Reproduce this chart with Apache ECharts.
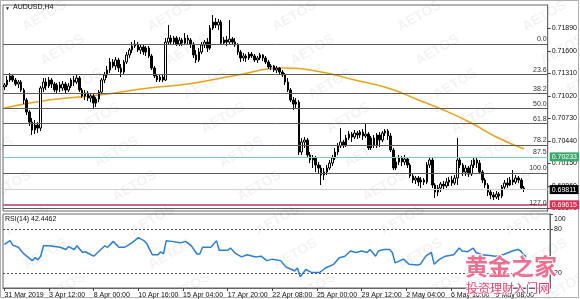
<!DOCTYPE html>
<html><head><meta charset="utf-8">
<script src="https://cdn.jsdelivr.net/npm/echarts@6/dist/echarts.min.js"></script>
<style>html,body{margin:0;padding:0;background:#fff}#c{width:580px;height:299px}</style>
</head><body><div id="c"></div>
<script>
// ---- data ----
const symbolTitle = 'AUDUSD,H4';
const rsiTitle = 'RSI(14) 42.4462';
const tickLabels = ['31 Mar 2019','3 Apr 12:00','8 Apr 00:00','10 Apr 16:00','15 Apr 04:00','17 Apr 20:00','22 Apr 08:00','25 Apr 00:00','29 Apr 12:00','2 May 04:00','6 May 16:00','9 May 08:00'];
const barsPerLabel = 16;
const priceTicks = [0.71890,0.71600,0.71310,0.71020,0.70730,0.70440,0.70150,0.69860,0.69570];
const rsiTicks = [100,80,20];
const rsiLevels = [80,20];
// [open, close, low, high]
const candles = [
[0.71133,0.71159,0.71094,0.71184],[0.71159,0.71223,0.71133,0.71275],[0.71223,0.71275,0.71197,0.71313],[0.71275,0.71223,0.71197,0.71300],
[0.71223,0.71171,0.71146,0.71249],[0.71171,0.71197,0.71120,0.71223],[0.71197,0.71094,0.71068,0.71223],[0.71094,0.70965,0.70913,0.71120],
[0.70965,0.70810,0.70772,0.70991],[0.70810,0.70681,0.70630,0.70836],[0.70681,0.70579,0.70515,0.70733],[0.70579,0.70643,0.70527,0.70707],
[0.70643,0.70604,0.70540,0.70681],[0.70604,0.71120,0.70566,0.71146],[0.71120,0.71197,0.71068,0.71249],[0.71197,0.71146,0.71094,0.71249],
[0.71146,0.71223,0.71120,0.71262],[0.71223,0.71171,0.71120,0.71249],[0.71171,0.71094,0.71068,0.71197],[0.71094,0.71159,0.71055,0.71184],
[0.71159,0.71120,0.71068,0.71197],[0.71120,0.71171,0.71081,0.71210],[0.71171,0.71094,0.71055,0.71197],[0.71094,0.71146,0.71068,0.71184],
[0.71146,0.71223,0.71120,0.71249],[0.71223,0.71197,0.71146,0.71275],[0.71197,0.71249,0.71171,0.71300],[0.71249,0.71094,0.71068,0.71275],
[0.71094,0.71017,0.70991,0.71120],[0.71017,0.71055,0.70965,0.71094],[0.71055,0.70991,0.70952,0.71081],[0.70991,0.71017,0.70939,0.71042],
[0.71017,0.70926,0.70862,0.71042],[0.70926,0.70978,0.70875,0.71004],[0.70978,0.71068,0.70939,0.71094],[0.71068,0.71223,0.71042,0.71249],
[0.71223,0.71288,0.71184,0.71326],[0.71288,0.71352,0.71249,0.71404],[0.71352,0.71455,0.71313,0.71507],[0.71455,0.71404,0.71378,0.71494],
[0.71404,0.71481,0.71352,0.71520],[0.71481,0.71378,0.71326,0.71507],[0.71378,0.71326,0.71262,0.71429],[0.71326,0.71455,0.71300,0.71481],
[0.71455,0.71546,0.71429,0.71584],[0.71546,0.71610,0.71507,0.71635],[0.71610,0.71661,0.71571,0.71712],[0.71661,0.71686,0.71635,0.71738],
[0.71686,0.71610,0.71584,0.71712],[0.71610,0.71648,0.71558,0.71686],[0.71648,0.71584,0.71546,0.71674],[0.71584,0.71635,0.71533,0.71661],
[0.71635,0.71533,0.71507,0.71661],[0.71533,0.71378,0.71352,0.71558],[0.71378,0.71275,0.71249,0.71404],[0.71275,0.71223,0.71197,0.71300],
[0.71223,0.71262,0.71197,0.71288],[0.71262,0.71223,0.71197,0.71300],[0.71223,0.71712,0.71210,0.71764],[0.71712,0.71764,0.71686,0.71932],
[0.71764,0.71712,0.71674,0.71803],[0.71712,0.71764,0.71686,0.71790],[0.71764,0.71686,0.71661,0.71790],[0.71686,0.71738,0.71661,0.71777],
[0.71738,0.71699,0.71661,0.71764],[0.71699,0.71764,0.71674,0.71828],[0.71764,0.71738,0.71686,0.71803],[0.71738,0.71686,0.71635,0.71764],
[0.71686,0.71546,0.71507,0.71712],[0.71546,0.71481,0.71442,0.71610],[0.71481,0.71584,0.71455,0.71635],[0.71584,0.71674,0.71558,0.71712],
[0.71674,0.71712,0.71635,0.71738],[0.71712,0.71635,0.71584,0.71764],[0.71635,0.71893,0.71610,0.71932],[0.71893,0.71970,0.71867,0.72061],
[0.71970,0.71932,0.71893,0.72022],[0.71932,0.71970,0.71867,0.72009],[0.71970,0.71699,0.71674,0.71996],[0.71699,0.71738,0.71674,0.71777],
[0.71738,0.71712,0.71661,0.71790],[0.71712,0.71751,0.71686,0.71996],[0.71751,0.71712,0.71674,0.71777],[0.71712,0.71674,0.71648,0.71764],
[0.71674,0.71584,0.71546,0.71699],[0.71584,0.71507,0.71455,0.71610],[0.71507,0.71533,0.71468,0.71571],[0.71533,0.71507,0.71455,0.71558],
[0.71507,0.71558,0.71481,0.71584],[0.71558,0.71533,0.71507,0.71584],[0.71533,0.71481,0.71455,0.71558],[0.71481,0.71507,0.71442,0.71533],
[0.71507,0.71546,0.71481,0.71571],[0.71546,0.71507,0.71468,0.71558],[0.71507,0.71455,0.71429,0.71533],[0.71455,0.71391,0.71365,0.71481],
[0.71391,0.71404,0.71352,0.71429],[0.71404,0.71352,0.71326,0.71417],[0.71352,0.71378,0.71313,0.71404],[0.71378,0.71326,0.71288,0.71391],
[0.71326,0.71288,0.71262,0.71352],[0.71288,0.71197,0.71159,0.71313],[0.71197,0.71094,0.71068,0.71249],[0.71094,0.70965,0.70939,0.71120],
[0.70965,0.70913,0.70836,0.71004],[0.70913,0.70939,0.70862,0.70991],[0.70939,0.70295,0.70257,0.70965],[0.70295,0.70424,0.70257,0.70476],
[0.70424,0.70450,0.70347,0.70489],[0.70450,0.70257,0.70231,0.70476],[0.70257,0.70192,0.70153,0.70295],[0.70192,0.70218,0.70089,0.70257],
[0.70218,0.70128,0.70037,0.70244],[0.70128,0.70089,0.70024,0.70166],[0.70089,0.69999,0.69870,0.70128],[0.69999,0.70037,0.69934,0.70089],
[0.70037,0.70089,0.69999,0.70128],[0.70089,0.70153,0.70063,0.70192],[0.70153,0.70218,0.70115,0.70257],[0.70218,0.70295,0.70192,0.70347],
[0.70295,0.70373,0.70257,0.70411],[0.70373,0.70424,0.70347,0.70604],[0.70424,0.70386,0.70347,0.70450],[0.70386,0.70476,0.70360,0.70515],
[0.70476,0.70527,0.70450,0.70566],[0.70527,0.70489,0.70424,0.70553],[0.70489,0.70540,0.70463,0.70579],[0.70540,0.70515,0.70463,0.70566],
[0.70515,0.70553,0.70476,0.70579],[0.70553,0.70502,0.70450,0.70591],[0.70502,0.70527,0.70476,0.70668],[0.70527,0.70347,0.70321,0.70553],
[0.70347,0.70476,0.70321,0.70502],[0.70476,0.70386,0.70347,0.70515],[0.70386,0.70515,0.70347,0.70540],[0.70515,0.70450,0.70360,0.70553],
[0.70450,0.70540,0.70424,0.70566],[0.70540,0.70566,0.70502,0.70591],[0.70566,0.70502,0.70450,0.70591],[0.70502,0.70321,0.70295,0.70540],
[0.70321,0.70089,0.70063,0.70347],[0.70089,0.70166,0.70063,0.70218],[0.70166,0.70218,0.70128,0.70257],[0.70218,0.70166,0.70115,0.70244],
[0.70166,0.70205,0.70128,0.70257],[0.70205,0.70128,0.70089,0.70231],[0.70128,0.69986,0.69960,0.70153],[0.69986,0.69934,0.69895,0.70011],
[0.69934,0.69960,0.69882,0.69986],[0.69960,0.69908,0.69857,0.69986],[0.69908,0.69934,0.69831,0.69973],[0.69934,0.69908,0.69870,0.69960],
[0.69908,0.70128,0.69882,0.70166],[0.70128,0.70192,0.70089,0.70218],[0.70192,0.69870,0.69831,0.70218],[0.69870,0.69779,0.69702,0.69895],
[0.69779,0.69831,0.69728,0.69870],[0.69831,0.69882,0.69779,0.69908],[0.69882,0.69857,0.69805,0.69921],[0.69857,0.69908,0.69831,0.69960],
[0.69908,0.69934,0.69857,0.69973],[0.69934,0.69895,0.69857,0.69986],[0.69895,0.69960,0.69870,0.69999],[0.69960,0.70192,0.69870,0.70476],
[0.70192,0.70128,0.70089,0.70231],[0.70128,0.70037,0.69986,0.70153],[0.70037,0.70089,0.69986,0.70128],[0.70089,0.70011,0.69973,0.70115],
[0.70011,0.70128,0.69986,0.70192],[0.70128,0.70192,0.70089,0.70231],[0.70192,0.70153,0.70089,0.70218],[0.70153,0.70037,0.70011,0.70192],
[0.70037,0.69934,0.69895,0.70063],[0.69934,0.69870,0.69831,0.69960],[0.69870,0.69779,0.69728,0.69895],[0.69779,0.69741,0.69689,0.69805],
[0.69741,0.69715,0.69676,0.69779],[0.69715,0.69753,0.69689,0.69792],[0.69753,0.69728,0.69676,0.69779],[0.69728,0.69844,0.69702,0.69870],
[0.69844,0.69895,0.69805,0.69934],[0.69895,0.69870,0.69831,0.69960],[0.69870,0.69934,0.69857,0.69973],[0.69934,0.69908,0.69870,0.70063],
[0.69908,0.69960,0.69882,0.69999],[0.69960,0.69934,0.69895,0.69986],[0.69934,0.69831,0.69805,0.69960],[0.69831,0.69811,0.69779,0.69857]
];
// moving average, [bar index, value]
const maPoints = [[0,0.70863],[16,0.70966],[34,0.71030],[52,0.71120],[66,0.71172],[84,0.71288],[100,0.71378],[114,0.71327],[126,0.71223],[138,0.71120],[149,0.70966],[158,0.70837],[168,0.70669],[177,0.70489],[187,0.70334]];
// RSI(14), [bar index, value]
const rsiPoints = [[0,59],[2,64],[3,58],[5,55],[7,46],[9,40],[10,37],[11,41],[12,38],[13,43],[14,57],[16,57],[18,56],[20,55],[22,52],[23,56],[25,52],[26,57],[28,48],[29,49],[30,47],[32,43],[34,50],[36,57],[37,55],[39,63],[41,55],[43,55],[44,57],[46,62],[48,68],[50,64],[51,60],[53,45],[55,45],[56,49],[57,46],[58,64],[60,63],[63,61],[65,63],[67,57],[69,46],[70,46],[71,55],[74,55],[76,64],[77,51],[80,51],[81,54],[83,46],[85,42],[87,45],[90,42],[92,43],[94,37],[96,39],[99,37],[101,28],[103,25],[104,23],[105,27],[106,15],[108,25],[110,21],[113,21],[114,24],[115,27],[118,32],[120,41],[122,43],[124,50],[126,48],[128,50],[130,48],[131,52],[133,43],[134,50],[136,52],[138,52],[139,48],[140,34],[143,39],[145,32],[148,31],[149,32],[151,43],[153,48],[154,32],[156,39],[158,43],[161,45],[163,54],[164,50],[166,49],[168,54],[169,48],[171,45],[174,44],[176,43],[178,44],[180,47],[182,50],[184,52],[185,50],[186,45],[187,42.45]];
const fibHigh = 0.71690, fibLow = 0.70024;
const fibLevels = [0,23.6,38.2,50,61.8,78.2,87.5,100,127];
const askPrice = 0.70233, lastPrice = 0.69811, stopPrice = 0.69615;
const SLOTS = 196;

// ---- chart ----
const FONT = 'Liberation Sans';
const cats = Array.from({length: SLOTS}, (_, i) => String(i));
const fibLines = fibLevels.map(l => ({
  name: 'fib' + l,
  yAxis: +(fibHigh - (fibHigh - fibLow) * l / 100).toFixed(5),
  lineStyle: {color: l === 87.5 ? '#7fcfae' : '#5c5c5c', width: 1, type: 'solid'},
  label: {show: true, position: 'insideEndTop', formatter: l.toFixed(1), color: '#333', fontSize: 7, fontFamily: FONT, distance: 1}
}));
function tagLine(v, lc, lw, bg) {
  return {name: 'tag' + v, yAxis: v, lineStyle: {color: lc, width: lw, type: 'solid'},
    label: {show: true, position: 'end', formatter: v.toFixed(5), color: '#fff', backgroundColor: bg,
      fontSize: 7, fontFamily: FONT, padding: [1, 2, 1, 2], distance: 2}};
}
const watermarks = [];
for (let r = -1; r < 10; r++) for (let c = -1; c < 6; c++) {
  watermarks.push({type: 'text', x: 20 + 125 * c + 18 * r, y: 22 + 34 * r, rotation: Math.PI / 6, silent: true, z: 0,
    style: {text: 'AETOS', fill: 'rgba(0,0,0,0.05)', font: 'bold 14px ' + FONT}});
}
const chart = echarts.init(document.getElementById('c'), null, {renderer: 'canvas'});
chart.setOption({
  animation: false,
  backgroundColor: '#fff',
  grid: [
    {left: 3, right: 30, top: 5, height: 206, show: true, borderColor: '#666', borderWidth: 1, backgroundColor: 'transparent'},
    {left: 3, right: 30, top: 214, height: 74, show: true, borderColor: '#666', borderWidth: 1, backgroundColor: 'transparent'}
  ],
  xAxis: [
    {type: 'category', gridIndex: 0, data: cats, axisLabel: {show: false}, axisTick: {show: false}, axisLine: {show: false}, splitLine: {show: false}},
    {type: 'category', gridIndex: 1, data: cats, axisLine: {show: true, lineStyle: {color: '#666'}},
      axisTick: {show: true, length: 3, interval: i => i % barsPerLabel === 0 && i / barsPerLabel < tickLabels.length, lineStyle: {color: '#444'}, alignWithLabel: true},
      axisLabel: {show: true, interval: i => i % barsPerLabel === 0 && i / barsPerLabel < tickLabels.length,
        formatter: (v, i) => tickLabels[i / barsPerLabel] || '', align: 'left', color: '#111', fontSize: 7, fontFamily: FONT, margin: 4},
      splitLine: {show: false}}
  ],
  yAxis: [
    {type: 'value', gridIndex: 0, position: 'right', min: 0.69535, max: 0.72190,
      axisLine: {show: true, lineStyle: {color: '#666'}},
      axisTick: {show: true, customValues: priceTicks, length: 3, lineStyle: {color: '#444'}},
      axisLabel: {show: true, customValues: priceTicks, formatter: v => v.toFixed(5), color: '#111', fontSize: 7, fontFamily: FONT, margin: 4},
      splitLine: {show: false}},
    {type: 'value', gridIndex: 1, position: 'right', min: 0, max: 100,
      axisLine: {show: true, lineStyle: {color: '#666'}},
      axisTick: {show: true, customValues: rsiTicks, length: 3, lineStyle: {color: '#444'}},
      axisLabel: {show: true, customValues: rsiTicks, color: '#111', fontSize: 7, fontFamily: FONT, margin: 4,
        formatter: v => v === 100 ? '{t|100}' : String(v), rich: {t: {padding: [11, 0, 0, 0], fontSize: 7, fontFamily: FONT, color: '#111'}}},
      splitLine: {show: false}}
  ],
  series: [
    {type: 'line', xAxisIndex: 0, yAxisIndex: 0, data: maPoints, smooth: true, showSymbol: false,
      lineStyle: {color: '#e8a317', width: 1.5}, z: 3,
      markLine: {silent: true, symbol: 'none', animation: false, precision: 5,
        data: fibLines.concat([
          tagLine(askPrice, '#7fcfae', 1, '#3aa86b'),
          tagLine(lastPrice, '#cfcfcf', 1, '#000000'),
          tagLine(stopPrice, '#c86a86', 2, '#e0304f')
        ])}},
    {type: 'candlestick', xAxisIndex: 0, yAxisIndex: 0, data: candles, barWidth: 2, z: 4,
      itemStyle: {color: '#ffffff', color0: '#000000', borderColor: '#000000', borderColor0: '#000000', borderWidth: 1}},
    {type: 'line', xAxisIndex: 1, yAxisIndex: 1, data: rsiPoints, showSymbol: false,
      lineStyle: {color: '#2b7fd6', width: 1.5},
      markLine: {silent: true, symbol: 'none', label: {show: false},
        data: rsiLevels.map(v => ({yAxis: v})), lineStyle: {color: '#555', type: [2, 2], width: 1}}}
  ],
  graphic: watermarks.concat([
    {type: 'rect', shape: {x: 0.5, y: 0.5, width: 578, height: 297}, style: {fill: 'none', stroke: '#b0b0b0', lineWidth: 1}, silent: true},
    {type: 'text', x: 5, y: 6, style: {text: '\u25BC', fill: '#222', font: '5px ' + FONT}},
    {type: 'text', x: 13, y: 4, style: {text: symbolTitle, fill: '#111', font: '7px ' + FONT}},
    {type: 'text', x: 5, y: 216, style: {text: rsiTitle, fill: '#111', font: '7px ' + FONT}},
    {type: 'text', x: 465, y: 255, z: 100, style: {text: '黄金之家', fill: '#f06e90', stroke: '#fff', lineWidth: 2, font: 'bold 23px "Noto Sans CJK SC"'}},
    {type: 'text', x: 466, y: 282, z: 100, style: {text: '投资理财入门网', fill: '#e8406e', stroke: '#fff', lineWidth: 1.5, font: '12px "Noto Sans CJK SC"'}}
  ])
});
</script></body></html>
